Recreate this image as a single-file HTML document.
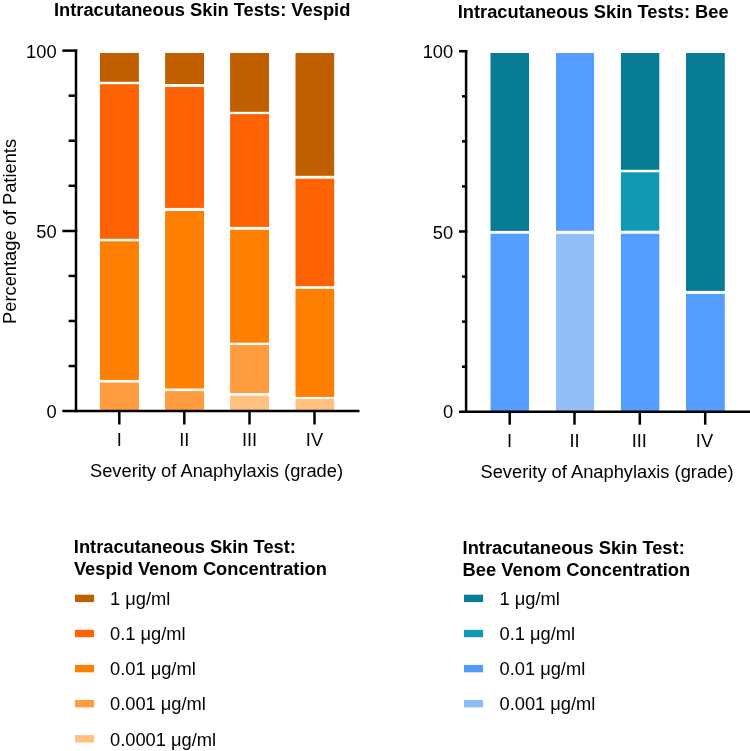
<!DOCTYPE html>
<html><head><meta charset="utf-8"><style>
html,body{margin:0;padding:0;background:#fff;width:750px;height:751px;overflow:hidden}
svg{display:block;position:absolute;left:0;top:0;will-change:transform}
text{font-family:"Liberation Sans",sans-serif;font-size:18.3px;fill:#000}
</style></head><body>
<svg width="750" height="751" viewBox="0 0 750 751">
<rect x="100.00" y="53.00" width="38.90" height="28.80" fill="#C05F00"/>
<rect x="100.00" y="84.20" width="38.90" height="154.60" fill="#FF6200"/>
<rect x="100.00" y="241.30" width="38.90" height="138.60" fill="#FF8000"/>
<rect x="100.00" y="382.50" width="38.90" height="28.00" fill="#FF9C40"/>
<rect x="165.10" y="53.00" width="38.90" height="31.00" fill="#C05F00"/>
<rect x="165.10" y="86.90" width="38.90" height="121.00" fill="#FF6200"/>
<rect x="165.10" y="211.00" width="38.90" height="177.50" fill="#FF8000"/>
<rect x="165.10" y="391.10" width="38.90" height="19.40" fill="#FF9C40"/>
<rect x="230.10" y="53.00" width="38.90" height="58.80" fill="#C05F00"/>
<rect x="230.10" y="114.10" width="38.90" height="112.80" fill="#FF6200"/>
<rect x="230.10" y="229.80" width="38.90" height="112.90" fill="#FF8000"/>
<rect x="230.10" y="345.00" width="38.90" height="48.00" fill="#FF9C40"/>
<rect x="230.10" y="395.70" width="38.90" height="14.80" fill="#FFC080"/>
<rect x="295.50" y="53.00" width="38.70" height="122.80" fill="#C05F00"/>
<rect x="295.50" y="178.70" width="38.70" height="107.50" fill="#FF6200"/>
<rect x="295.50" y="288.90" width="38.70" height="108.00" fill="#FF8000"/>
<rect x="295.50" y="399.00" width="38.70" height="11.50" fill="#FFC080"/>
<line x1="76.0" y1="49.4" x2="76.0" y2="412.3" stroke="#000" stroke-width="2.5"/>
<line x1="62.3" y1="50.6" x2="77.25" y2="50.6" stroke="#000" stroke-width="2.5"/>
<line x1="62.3" y1="231.0" x2="77.25" y2="231.0" stroke="#000" stroke-width="2.5"/>
<line x1="62.3" y1="411.1" x2="359.5" y2="411.1" stroke="#000" stroke-width="2.5"/>
<line x1="68.6" y1="95.6625" x2="76.0" y2="95.6625" stroke="#000" stroke-width="2.5"/>
<line x1="68.6" y1="140.725" x2="76.0" y2="140.725" stroke="#000" stroke-width="2.5"/>
<line x1="68.6" y1="185.7875" x2="76.0" y2="185.7875" stroke="#000" stroke-width="2.5"/>
<line x1="68.6" y1="275.9125" x2="76.0" y2="275.9125" stroke="#000" stroke-width="2.5"/>
<line x1="68.6" y1="320.975" x2="76.0" y2="320.975" stroke="#000" stroke-width="2.5"/>
<line x1="68.6" y1="366.0375" x2="76.0" y2="366.0375" stroke="#000" stroke-width="2.5"/>
<line x1="119.3" y1="411.1" x2="119.3" y2="424.5" stroke="#000" stroke-width="2.5"/>
<line x1="184.3" y1="411.1" x2="184.3" y2="424.5" stroke="#000" stroke-width="2.5"/>
<line x1="249.5" y1="411.1" x2="249.5" y2="424.5" stroke="#000" stroke-width="2.5"/>
<line x1="314.5" y1="411.1" x2="314.5" y2="424.5" stroke="#000" stroke-width="2.5"/>
<rect x="490.50" y="53.00" width="38.50" height="177.90" fill="#087B95"/>
<rect x="490.50" y="233.70" width="38.50" height="177.30" fill="#559DFF"/>
<rect x="556.00" y="53.00" width="38.10" height="177.80" fill="#559DFF"/>
<rect x="556.00" y="233.90" width="38.10" height="177.10" fill="#93BFF7"/>
<rect x="620.90" y="53.00" width="38.40" height="116.80" fill="#087B95"/>
<rect x="620.90" y="172.30" width="38.40" height="58.40" fill="#1199B3"/>
<rect x="620.90" y="233.80" width="38.40" height="177.20" fill="#559DFF"/>
<rect x="686.00" y="53.00" width="38.80" height="237.90" fill="#087B95"/>
<rect x="686.00" y="293.90" width="38.80" height="117.10" fill="#559DFF"/>
<line x1="466.1" y1="50.0" x2="466.1" y2="413.0" stroke="#000" stroke-width="2.5"/>
<line x1="459.0" y1="51.2" x2="467.35" y2="51.2" stroke="#000" stroke-width="2.5"/>
<line x1="459.0" y1="231.5" x2="467.35" y2="231.5" stroke="#000" stroke-width="2.5"/>
<line x1="459.0" y1="411.8" x2="750" y2="411.8" stroke="#000" stroke-width="2.5"/>
<line x1="462.0" y1="96.275" x2="466.1" y2="96.275" stroke="#000" stroke-width="2.5"/>
<line x1="462.0" y1="141.35000000000002" x2="466.1" y2="141.35000000000002" stroke="#000" stroke-width="2.5"/>
<line x1="462.0" y1="186.425" x2="466.1" y2="186.425" stroke="#000" stroke-width="2.5"/>
<line x1="462.0" y1="276.575" x2="466.1" y2="276.575" stroke="#000" stroke-width="2.5"/>
<line x1="462.0" y1="321.65000000000003" x2="466.1" y2="321.65000000000003" stroke="#000" stroke-width="2.5"/>
<line x1="462.0" y1="366.725" x2="466.1" y2="366.725" stroke="#000" stroke-width="2.5"/>
<line x1="509.7" y1="411.8" x2="509.7" y2="424.7" stroke="#000" stroke-width="2.5"/>
<line x1="574.5" y1="411.8" x2="574.5" y2="424.7" stroke="#000" stroke-width="2.5"/>
<line x1="639.8" y1="411.8" x2="639.8" y2="424.7" stroke="#000" stroke-width="2.5"/>
<line x1="705.2" y1="411.8" x2="705.2" y2="424.7" stroke="#000" stroke-width="2.5"/>
<rect x="75" y="594.70" width="19.1" height="7.4" fill="#C05F00"/>
<rect x="75" y="629.80" width="19.1" height="7.4" fill="#FF6200"/>
<rect x="75" y="664.90" width="19.1" height="7.4" fill="#FF8000"/>
<rect x="75" y="700.00" width="19.1" height="7.4" fill="#FF9C40"/>
<rect x="75" y="735.10" width="19.1" height="7.4" fill="#FFC080"/>
<rect x="464" y="594.70" width="19.1" height="7.4" fill="#087B95"/>
<rect x="464" y="629.80" width="19.1" height="7.4" fill="#1199B3"/>
<rect x="464" y="664.90" width="19.1" height="7.4" fill="#5298F5"/>
<rect x="464" y="700.00" width="19.1" height="7.4" fill="#8FBBF5"/>
<text x="54.0" y="15.9" text-anchor="start" font-weight="bold" >Intracutaneous Skin Tests: Vespid</text>
<text x="457.7" y="17.5" text-anchor="start" font-weight="bold" >Intracutaneous Skin Tests: Bee</text>
<text x="56.6" y="58.0" text-anchor="end" font-weight="normal" >100</text>
<text x="56.6" y="238.4" text-anchor="end" font-weight="normal" >50</text>
<text x="56.6" y="418.0" text-anchor="end" font-weight="normal" >0</text>
<text x="453.2" y="58.3" text-anchor="end" font-weight="normal" >100</text>
<text x="453.2" y="238.6" text-anchor="end" font-weight="normal" >50</text>
<text x="453.2" y="418.4" text-anchor="end" font-weight="normal" >0</text>
<text x="119.3" y="445.7" text-anchor="middle" font-weight="normal" >I</text>
<text x="184.3" y="445.7" text-anchor="middle" font-weight="normal" >II</text>
<text x="249.5" y="445.7" text-anchor="middle" font-weight="normal" >III</text>
<text x="314.5" y="445.7" text-anchor="middle" font-weight="normal" >IV</text>
<text x="509.5" y="446.6" text-anchor="middle" font-weight="normal" >I</text>
<text x="574.5" y="446.6" text-anchor="middle" font-weight="normal" >II</text>
<text x="639.3" y="446.6" text-anchor="middle" font-weight="normal" >III</text>
<text x="704.5" y="446.6" text-anchor="middle" font-weight="normal" >IV</text>
<text x="90.0" y="477.0" text-anchor="start" font-weight="normal" >Severity of Anaphylaxis (grade)</text>
<text x="480.5" y="477.5" text-anchor="start" font-weight="normal" >Severity of Anaphylaxis (grade)</text>
<text x="0" y="0" text-anchor="start" font-weight="normal" transform="translate(15.6,323.9) rotate(-90)">Percentage of Patients</text>
<text x="73.8" y="552.6" text-anchor="start" font-weight="bold" >Intracutaneous Skin Test:</text>
<text x="73.9" y="574.6" text-anchor="start" font-weight="bold" >Vespid Venom Concentration</text>
<text x="462.6" y="554.0" text-anchor="start" font-weight="bold" >Intracutaneous Skin Test:</text>
<text x="462.6" y="575.5" text-anchor="start" font-weight="bold" >Bee Venom Concentration</text>
<text x="110.0" y="605.1" text-anchor="start" font-weight="normal" >1 μg/ml</text>
<text x="110.0" y="640.2" text-anchor="start" font-weight="normal" >0.1 μg/ml</text>
<text x="110.0" y="675.3000000000001" text-anchor="start" font-weight="normal" >0.01 μg/ml</text>
<text x="110.0" y="710.4" text-anchor="start" font-weight="normal" >0.001 μg/ml</text>
<text x="110.0" y="745.5" text-anchor="start" font-weight="normal" >0.0001 μg/ml</text>
<text x="499.5" y="605.1" text-anchor="start" font-weight="normal" >1 μg/ml</text>
<text x="499.5" y="640.2" text-anchor="start" font-weight="normal" >0.1 μg/ml</text>
<text x="499.5" y="675.3000000000001" text-anchor="start" font-weight="normal" >0.01 μg/ml</text>
<text x="499.5" y="710.4" text-anchor="start" font-weight="normal" >0.001 μg/ml</text>
</svg>
</body></html>
